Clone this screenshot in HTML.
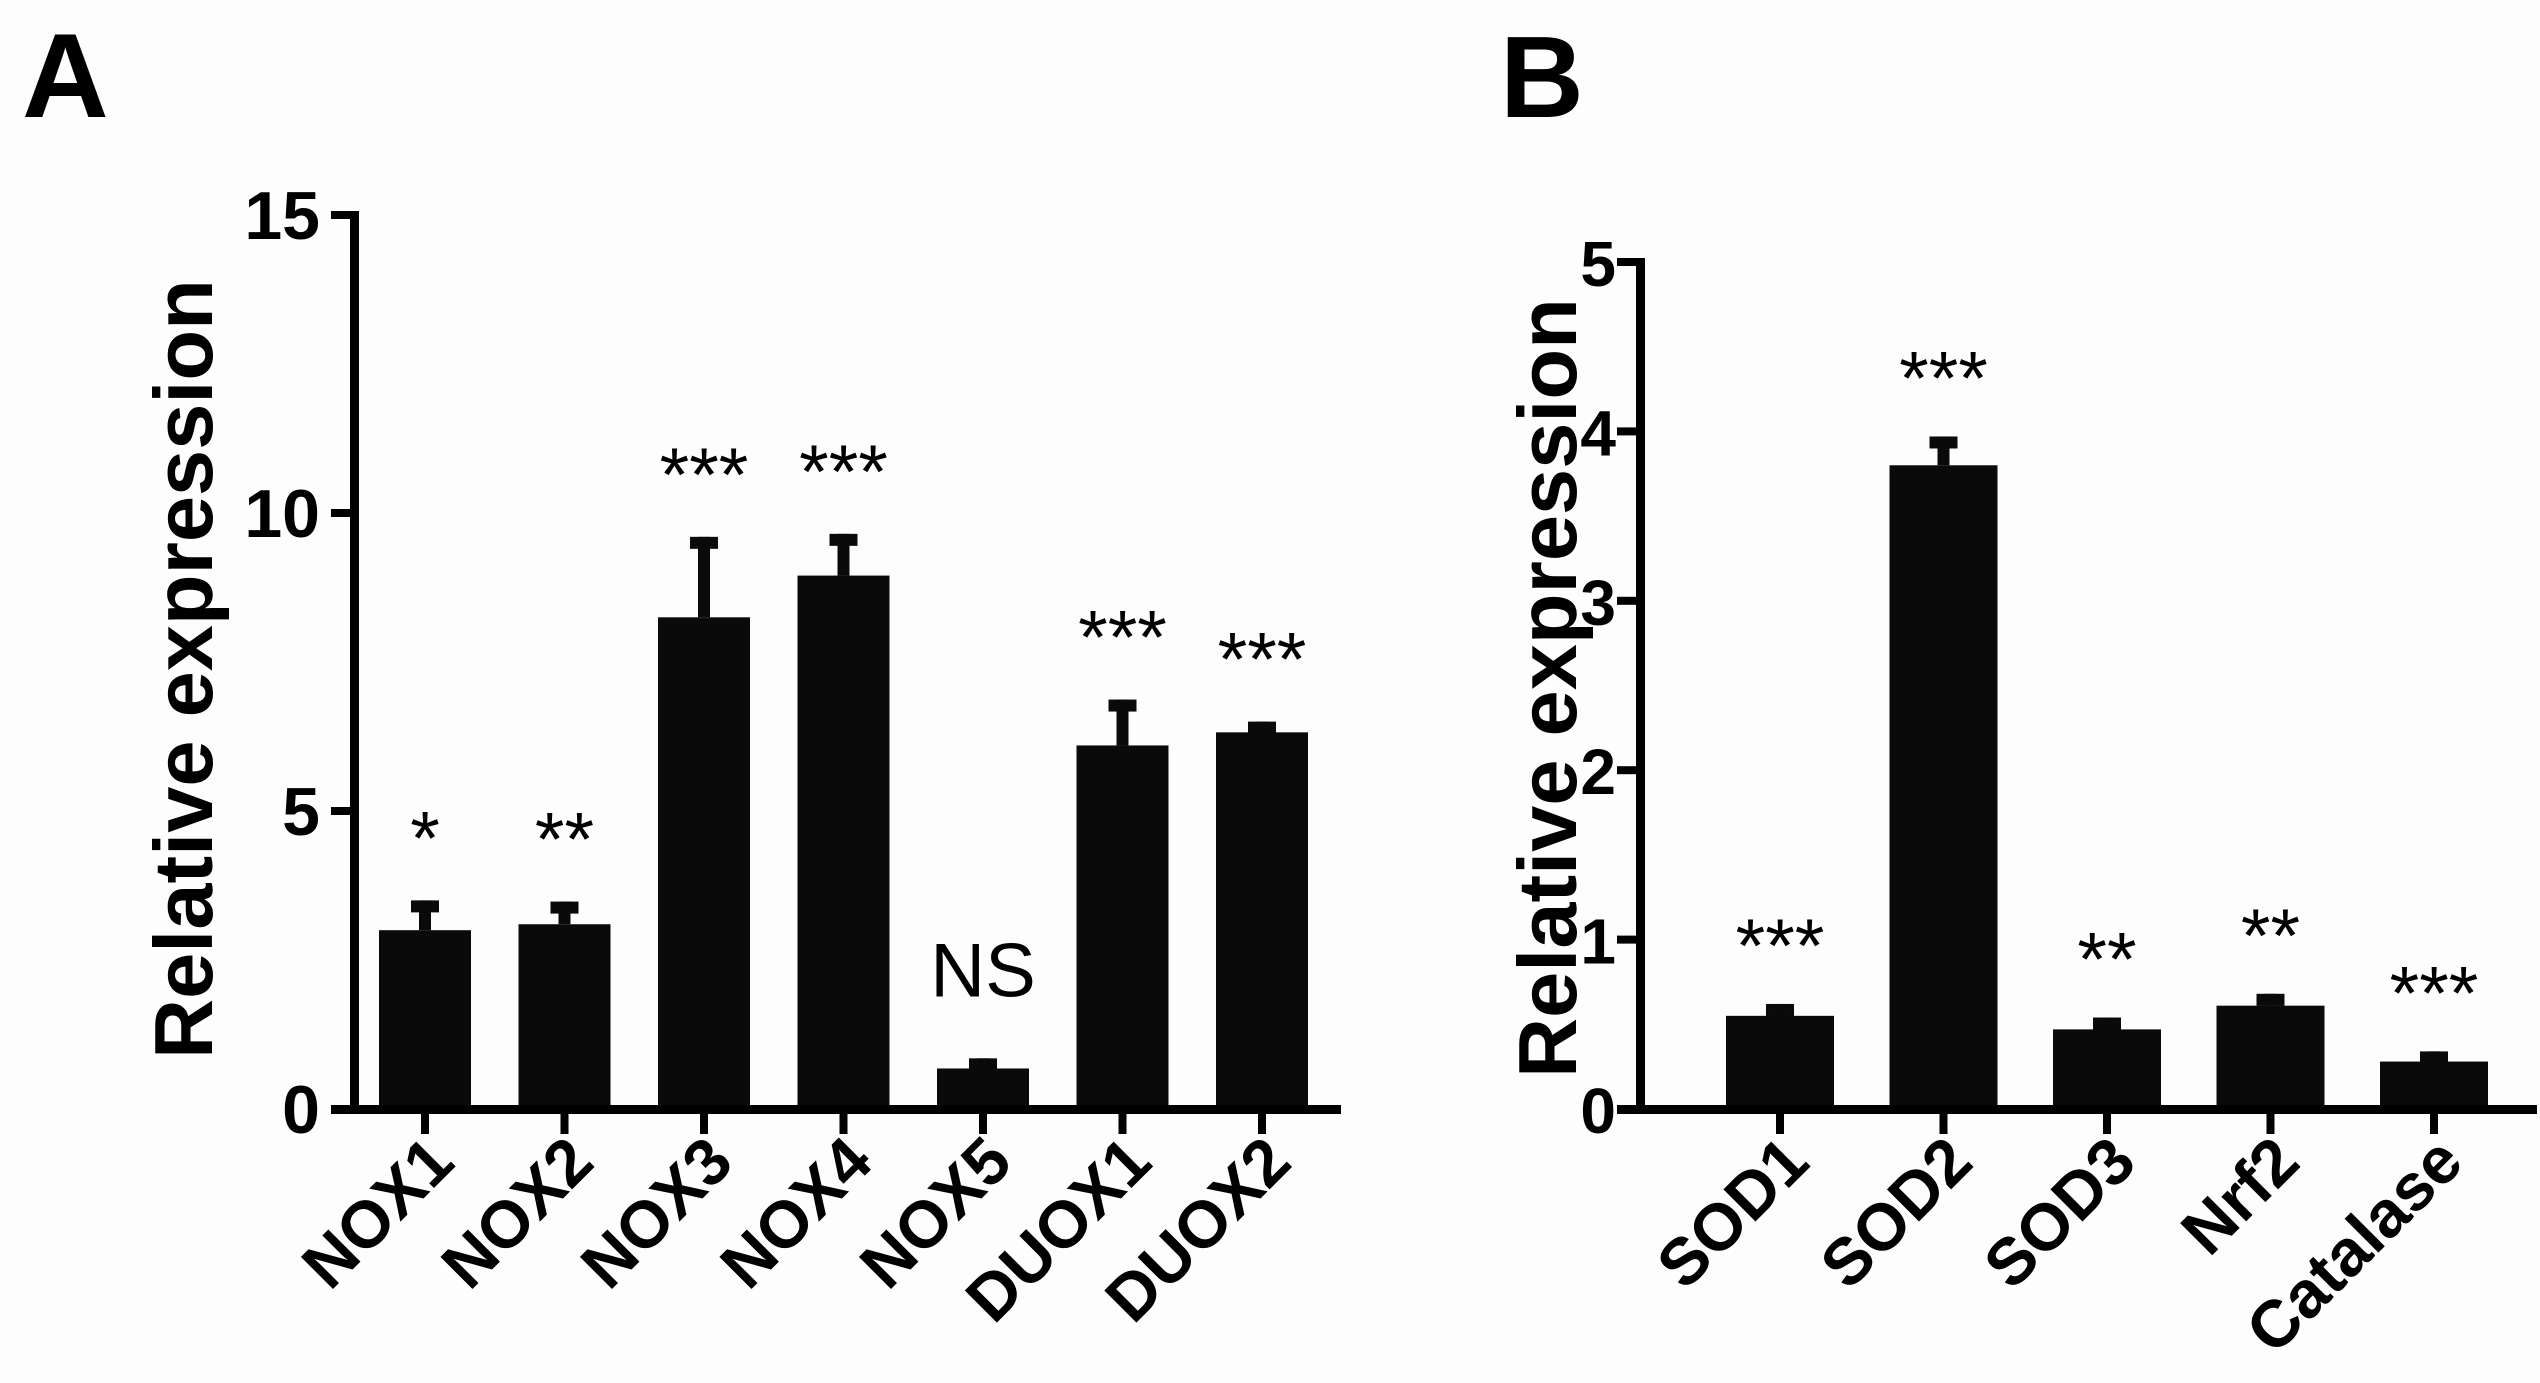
<!DOCTYPE html>
<html><head><meta charset="utf-8"><style>
html,body{margin:0;padding:0;background:#fdfdfd;}
svg{display:block;font-family:"Liberation Sans",Arial,sans-serif;}
</style></head><body>
<svg id="fig" width="2540" height="1383" viewBox="0 0 2540 1383" xmlns="http://www.w3.org/2000/svg">
<rect width="2540" height="1383" fill="#fdfdfd"/>
<text x="22" y="117" font-size="120" font-weight="bold">A</text>
<text x="1500" y="117" font-size="116" font-weight="bold">B</text>
<g id="panelA"></g>
<g id="panelB"></g>
</svg>
<script>
const catsA = ["NOX1","NOX2","NOX3","NOX4","NOX5","DUOX1","DUOX2"];
const valsA = [3.0,3.1,8.25,8.95,0.68,6.1,6.32];
const errA = [3.5,3.48,9.6,9.65,0.85,6.87,6.5];
const sigA = ["*","**","***","***","NS","***","***"];
const ticksA = [0,5,10,15];

const catsB = ["SOD1","SOD2","SOD3","Nrf2","Catalase"];
const valsB = [0.55,3.8,0.47,0.61,0.28];
const errB = [0.62,3.97,0.54,0.68,0.34];
const sigB = ["***","***","**","**","***"];
const ticksB = [0,1,2,3,4,5];

const NS = "http://www.w3.org/2000/svg";
function mk(parent, tag, attrs, text){
  const e = document.createElementNS(NS, tag);
  for (const k in attrs) e.setAttribute(k, attrs[k]);
  if (text !== undefined) e.textContent = text;
  parent.appendChild(e);
  return e;
}

function drawPanel(g, cfg, cats, vals, errs, sigs, ticks){
  const y = v => cfg.y0 - v * (cfg.y0 - cfg.yTop) / cfg.yMax;
  const x = i => cfg.x0c + i * cfg.pitch;
  cats.forEach((c,i)=>{
    const r = mk(g,'rect',{x:x(i)-cfg.bw/2, y:y(vals[i]), width:cfg.bw, height:cfg.y0-y(vals[i]), fill:'#0a0a0a'});
    
    
    const st = mk(g,'rect',{x:x(i)-6, y:y(errs[i]), width:12, height:Math.max(0,y(vals[i])-y(errs[i])), fill:'#0a0a0a'});
    
    
    const cp = mk(g,'rect',{x:x(i)-14, y:y(errs[i]), width:28, height:12, fill:'#0a0a0a'});
    
    
    const isNS = sigs[i] === 'NS';
    const t = mk(g,'text',{x:x(i), y: isNS ? y(errs[i]) - 62 : y(errs[i]) - cfg.starOff, 'text-anchor':'middle', 'font-size':76}, sigs[i]);
    
    
    const tk = mk(g,'rect',{x:x(i)-4, y:cfg.y0, width:8, height:cfg.tickDown, fill:'#000'});
    
    
    const lx = x(i) + 32, ly = 1165;
    const lb = mk(g,'text',{x:lx, y:ly, 'text-anchor':'end', 'font-size':66, 'font-weight':'bold', transform:`rotate(-45 ${lx} ${ly})`}, c);
    
    
  });
  const ya = mk(g,'rect',{x:cfg.ax-4, y:cfg.yTop-4, width:9, height:cfg.y0-cfg.yTop+8, fill:'#000'});
  
  
  const xa = mk(g,'rect',{x:cfg.ax-23, y:cfg.y0-4, width:cfg.xEnd-cfg.ax+23, height:9, fill:'#000'});
  
  
  ticks.forEach(v=>{
    const tk = mk(g,'rect',{x:cfg.ax-23, y:y(v)-4, width:23, height:8, fill:'#000'});
    
    
    const tl = mk(g,'text',{x:cfg.ax-cfg.lblOff, y:y(v)+24, 'text-anchor':'end', 'font-size':cfg.tickFont, 'font-weight':'bold'}, String(v));
    
    
  });
  const tt = mk(g,'text',{x:cfg.titleX, y:cfg.titleY, 'text-anchor':'middle', 'font-size':83, 'font-weight':'bold', transform:`rotate(-90 ${cfg.titleX} ${cfg.titleY})`}, 'Relative expression');
  
  
}

drawPanel(document.getElementById('panelA'),
  {ax:354, y0:1109, yTop:215, yMax:15, x0c:425, pitch:139.5, bw:92, xEnd:1341, tickDown:25, starOff:36, lblOff:34, tickFont:68, titleX:212, titleY:669},
  catsA, valsA, errA, sigA, ticksA);
drawPanel(document.getElementById('panelB'),
  {ax:1640, y0:1109, yTop:262, yMax:5, x0c:1780, pitch:163.5, bw:108, xEnd:2537, tickDown:25, starOff:32, lblOff:24, tickFont:64, titleX:1576, titleY:688},
  catsB, valsB, errB, sigB, ticksB);
</script>
</body></html>
